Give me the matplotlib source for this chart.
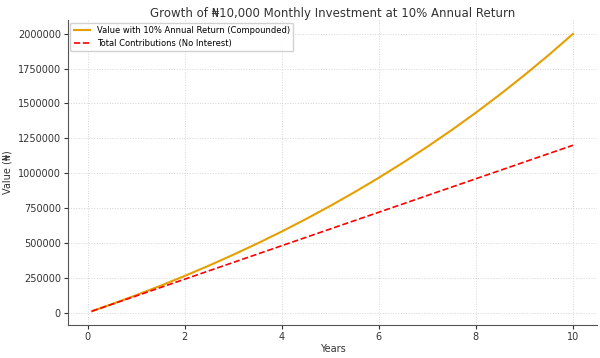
import matplotlib
matplotlib.use("Agg")
from matplotlib import pyplot as plt

# values (years, naira)
years = [0.083, 0.5, 1, 1.5, 2, 2.5, 3, 3.5, 4, 4.5, 5, 5.5, 6, 6.5, 7, 7.5, 8, 8.5, 9, 9.5, 10]
value_compounded = [10000, 61200, 125400, 192700, 263400, 337400, 415100, 496600, 582000, 671600,
                    765600, 864200, 967600, 1076000, 1189700, 1309000, 1434100, 1565400, 1703000,
                    1847300, 1998600]
contributions = [10000, 60000, 120000, 180000, 240000, 300000, 360000, 420000, 480000, 540000,
                 600000, 660000, 720000, 780000, 840000, 900000, 960000, 1020000, 1080000,
                 1140000, 1200000]
y_ticks = [0, 250000, 500000, 750000, 1000000, 1250000, 1500000, 1750000, 2000000]

plt.rcParams['font.family'] = ['DejaVu Sans']
fig, ax = plt.subplots(figsize=(6, 3.58), dpi=100)

ax.plot(years, value_compounded, color='#E69F00', lw=1.5,
        label='Value with 10% Annual Return (Compounded)')
ax.plot(years, contributions, color='red', ls='--', lw=1.2,
        label='Total Contributions (No Interest)')

ax.set_title('Growth of ₦10,000 Monthly Investment at 10% Annual Return',
             fontsize=8.5, color='#333333', pad=2.5)
ax.set_xlabel('Years', fontsize=7, color='#333333', labelpad=1.5)
ax.set_ylabel('Value (₦)', fontsize=7, color='#333333', labelpad=4)
ax.set_yticks(y_ticks)
ax.ticklabel_format(axis='y', style='plain')
ax.tick_params(labelsize=7, colors='#333333', length=3, pad=2)
ax.grid(True, ls=':', color='#d5d5d5', lw=0.7)
for s in ['top', 'right']:
    ax.spines[s].set_visible(False)
for s in ['left', 'bottom']:
    ax.spines[s].set_color('#555555')
ax.legend(loc='upper left', fontsize=6, framealpha=0.9, borderaxespad=0.3)

fig.subplots_adjust(left=0.113, right=0.995, top=0.944, bottom=0.092)
fig.savefig('out.png', dpi=100)
